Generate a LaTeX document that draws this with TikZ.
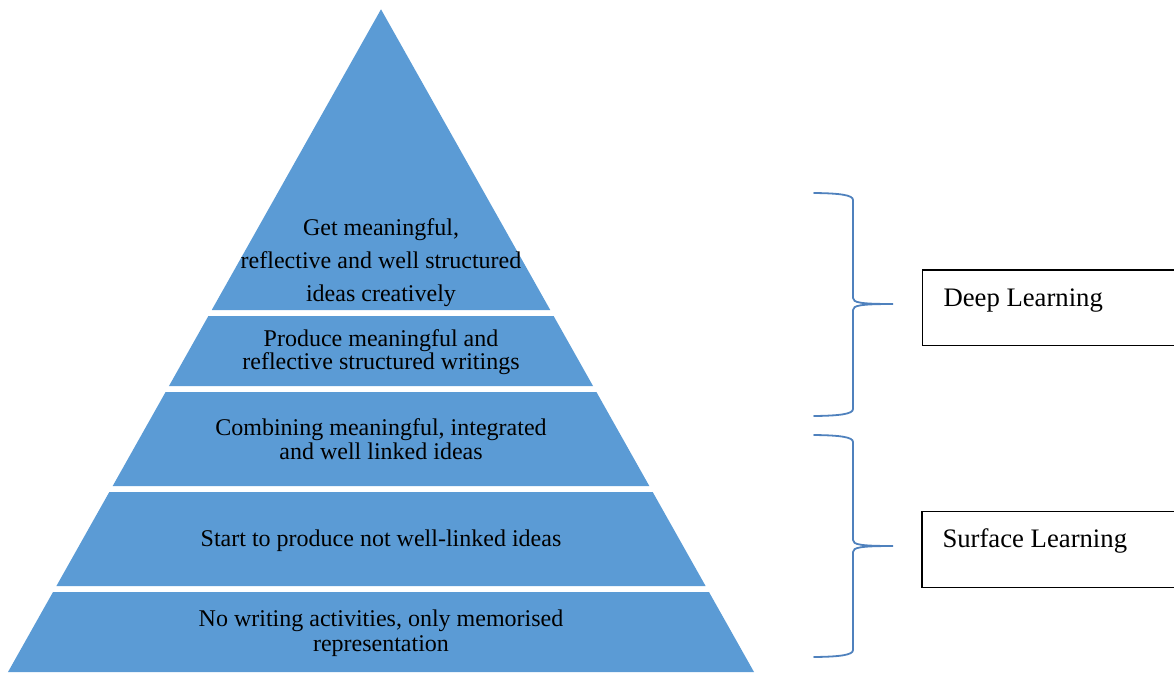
\documentclass[tikz,border=0pt]{standalone}
\usepackage{fontspec}
\setmainfont{Liberation Serif}
\definecolor{layerblue}{HTML}{5B9BD5}
\definecolor{bracecol}{HTML}{4F81BD}
% one band of the pyramid between two heights (apex at (381,9.3), base half-width 373 at y=672)
\newcommand{\pyrband}[2]{%
  \pgfmathsetmacro\bandwt{0.56285*(#1-9.3)}%
  \pgfmathsetmacro\bandwb{0.56285*(#2-9.3)}%
  \fill[layer] (381-\bandwt,#1) -- (381+\bandwt,#1) -- (381+\bandwb,#2) -- (381-\bandwb,#2) -- cycle;}
\begin{document}
\begin{tikzpicture}[x=1pt,y=-1pt,
  layer/.style={fill=layerblue},
  linetext/.style={anchor=base,inner sep=0pt,font=\fontsize{24}{26}\selectfont},
  boxtext/.style={anchor=base west,inner sep=0pt,font=\fontsize{26.7}{30}\selectfont},
  labelbox/.style={draw=black,line width=1.4pt},
  bracestyle/.style={draw=bracecol,line width=1.8pt,line cap=round}]
\useasboundingbox (0,0) rectangle (1174,673);
\clip (0,0) rectangle (1174,673);

% pyramid bands
\pyrband{9.3}{310}
\pyrband{316}{386}
\pyrband{392}{486}
\pyrband{492}{586}
\pyrband{592}{672}

% band texts
\node[linetext] (t1a) at (381,235) {Get meaningful,};
\node[linetext] (t1b) at (381,268) {reflective and well structured};
\node[linetext] (t1c) at (381,301.5) {ideas creatively};
\node[linetext] (t2a) at (381,346.5) {Produce meaningful and};
\node[linetext] (t2b) at (381,369) {reflective structured writings};
\node[linetext] (t3a) at (381,435) {Combining meaningful, integrated};
\node[linetext] (t3b) at (381,459) {and well linked ideas};
\node[linetext] (t4a) at (381,546.5) {Start to produce not well-linked ideas};
\node[linetext] (t5a) at (381,626.5) {No writing activities, only memorised};
\node[linetext] (t5b) at (381,651.5) {representation};

% label boxes (open past the right edge)
\draw[labelbox] (1190,270) -- (922.7,270) -- (922.7,345.7) -- (1190,345.7);
\draw[labelbox] (1190,511.7) -- (922,511.7) -- (922,587.3) -- (1190,587.3);
\node[boxtext] (deep) at (943.3,306.7) {Deep Learning};
\node[boxtext] (surface) at (942.3,547.7) {Surface Learning};

% braces
\coordinate (b1top) at (814,193);
\coordinate (b1tip) at (893,304);
\coordinate (b1bot) at (814,416);
\coordinate (b2top) at (814,435);
\coordinate (b2tip) at (893,546);
\coordinate (b2bot) at (814,657);
\draw[bracestyle] (b1top) .. controls (840,193.3) and (853,195) .. (853,200)
  -- (853,298) .. controls (853,302.5) and (860,304) .. (b1tip)
  .. controls (860,304) and (853,305.5) .. (853,310)
  -- (853,409) .. controls (853,414) and (840,415.7) .. (b1bot);
\draw[bracestyle] (b2top) .. controls (840,435.3) and (853,437) .. (853,442)
  -- (853,540) .. controls (853,544.5) and (860,546) .. (b2tip)
  .. controls (860,546) and (853,547.5) .. (853,552)
  -- (853,650) .. controls (853,655) and (840,656.7) .. (b2bot);
\end{tikzpicture}
\end{document}
